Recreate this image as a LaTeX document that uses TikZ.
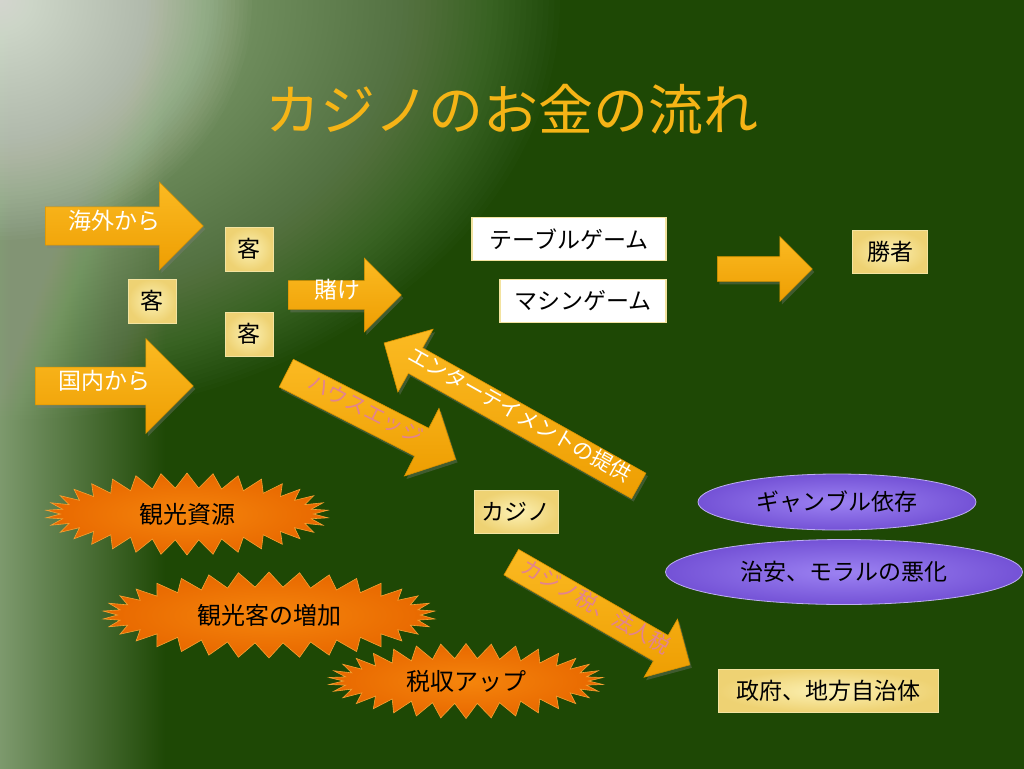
\documentclass[tikz,border=0pt]{standalone}
\usepackage{fontspec}
\newfontfamily\jp{Noto Sans CJK JP}
\usetikzlibrary{shapes.arrows,shapes.geometric,shapes.symbols,shadows}

\definecolor{bgdark}{HTML}{1E4805}
\definecolor{stripcol}{HTML}{7E9A6E}
\definecolor{glowA}{HTML}{B4C6A6}
\definecolor{titlegold}{HTML}{F5B416}
\definecolor{arrowtop}{HTML}{FBBA22}
\definecolor{arrowbot}{HTML}{EE9E02}
\definecolor{arrowedge}{HTML}{D99200}
\definecolor{boxlight}{HTML}{FCF1B4}
\definecolor{boxdark}{HTML}{EED273}
\definecolor{boxedge}{HTML}{F3E3A0}
\definecolor{burstin}{HTML}{F5850C}
\definecolor{burstout}{HTML}{E86800}
\definecolor{burstedge}{HTML}{F6A232}
\definecolor{riskin}{HTML}{9C82F2}
\definecolor{riskout}{HTML}{7452D6}
\definecolor{riskedge}{HTML}{BEB0F2}
\definecolor{edgepink}{HTML}{E3838F}

\newcommand{\jpsize}[1]{\fontsize{#1}{#1}\selectfont}

\begin{document}
\begin{tikzpicture}[
    x=1pt, y=-1pt,
    flow/.style={single arrow, draw=arrowedge, line width=0.6pt, top color=arrowtop, bottom color=arrowbot,
      anchor=tail, inner xsep=2pt, text height=0.85em, text depth=0.1em, font=\jp\jpsize{23}, text=white,
      drop shadow={opacity=0.35, shadow xshift=2pt, shadow yshift=-3pt}},
    guest/.style={rectangle, draw=boxedge, line width=0.6pt, inner color=boxlight, outer color=boxdark,
      minimum width=48pt, minimum height=44pt, inner sep=2pt, font=\jp\jpsize{23}, text=black},
    game/.style={rectangle, draw=boxedge, line width=1.5pt, fill=white,
      minimum height=43pt, inner sep=2pt, font=\jp\jpsize{23}, text=black},
    burst/.style={starburst, starburst points=34, starburst point height=15pt, random starburst=0,
      draw=burstedge, line width=0.6pt, inner color=burstin, outer color=burstout,
      inner sep=2pt, font=\jp\jpsize{24}, text=black},
    risk/.style={ellipse, draw=riskedge, line width=0.8pt, inner color=riskin, outer color=riskout,
      inner sep=1pt, font=\jp\jpsize{23}, text=black}
]
  % background
  \useasboundingbox (0,0) rectangle (1024,768);
  \begin{scope}
    \clip (0,0) rectangle (1024,768);
    \fill[bgdark] (-10,-10) rectangle (1034,778);
    \shade[left color=stripcol, right color=bgdark] (-2,-10) rectangle (165,778);
    \foreach \k in {1,...,100}
      \fill[glowA, opacity=0.018] (0,0) ellipse ({5.6*\k} and {4.2*\k});
    \foreach \k in {1,...,60}
      \fill[white, opacity=0.025] (0,0) ellipse ({4.2*\k} and {4*\k});
  \end{scope}
  % title
  \node[text=titlegold, font=\jp\jpsize{55}] (title) at (512,110) {カジノのお金の流れ};
  % guests coming in
  \node[flow, inner ysep=11.5pt, minimum height=158pt, minimum width=88pt, single arrow head extend=21.5pt] (overseas) at (45,226) {海外から};
  \node[flow, inner ysep=11.5pt, minimum height=158pt, minimum width=95pt, single arrow head extend=25pt] (domestic) at (35,386) {国内から};
  \node[guest] (g1) at (249,249) {客};
  \node[guest] (g2) at (152,301) {客};
  \node[guest] (g3) at (249,334) {客};
  % gambling
  \node[flow, inner ysep=7pt, minimum height=113pt, minimum width=74pt, single arrow head extend=19pt] (bet) at (288,295) {賭け};
  \node[game, minimum width=194pt] (table) at (569,239) {テーブルゲーム};
  \node[game, minimum width=166pt] (machine) at (583,301) {マシンゲーム};
  \node[flow, inner ysep=5pt, minimum height=95pt, minimum width=65pt, single arrow head extend=16.5pt] (win) at (717,269) {};
  \node[guest, minimum width=75pt, minimum height=43pt] (winner) at (890,252) {勝者};
  % casino
  \node[flow, text=edgepink, font=\jp\jpsize{21}, rotate=-27, inner ysep=8.5pt, minimum height=190pt,
    minimum width=76pt, single arrow head extend=19.5pt] (edge) at (286,373) {ハウスエッジ};
  \node[flow, font=\jp\jpsize{21}, rotate=-29.3, shape border rotate=180, inner ysep=7.5pt,
    minimum height=292pt, minimum width=72pt, single arrow head extend=18.5pt] (ent) at (639,486) {エンターテイメントの提供};
  \node[guest, minimum width=84pt, minimum height=43pt] (casino) at (516,512) {カジノ};
  \node[flow, text=edgepink, font=\jp\jpsize{21}, rotate=-29.9, inner ysep=7.5pt, minimum height=206pt,
    minimum width=67pt, single arrow head extend=16pt] (tax) at (511,562) {カジノ税、法人税};
  \node[guest, minimum width=220pt, minimum height=43pt] (gov) at (828,691) {政府、地方自治体};
  % effects
  \node[burst, minimum width=283pt, minimum height=82pt] (res) at (187,514) {観光資源};
  \node[burst, minimum width=333pt, minimum height=86pt] (tour) at (269,615) {観光客の増加};
  \node[burst, minimum width=275pt, minimum height=75pt] (rev) at (466,681) {税収アップ};
  % risks
  \node[risk, minimum width=278pt, minimum height=56pt] (dep) at (837,502) {ギャンブル依存};
  \node[risk, minimum width=357pt, minimum height=65pt] (crime) at (844,572) {治安、モラルの悪化};
\end{tikzpicture}
\end{document}
